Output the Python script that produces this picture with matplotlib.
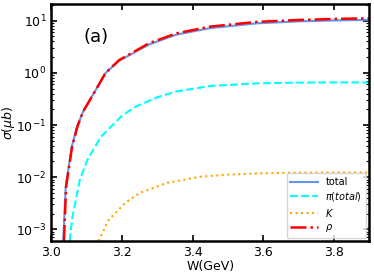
import matplotlib
matplotlib.use("Agg")
from matplotlib import pyplot as plt
import numpy as np

# values (W in GeV, sigma in micro-barn)
w_total = [3.034, 3.041, 3.045, 3.058, 3.073, 3.09, 3.12, 3.154, 3.192, 3.277, 3.354, 3.45, 3.583, 3.7, 3.8, 3.9]
sig_total = [6e-4, 6.5e-3, 1.0e-2, 3.8e-2, 9.3e-2, 0.18, 0.40, 1.0, 1.7, 3.5, 5.4, 7.2, 8.9, 9.7, 10.1, 10.4]

w_rho = [3.036, 3.042, 3.046, 3.059, 3.074, 3.09, 3.12, 3.154, 3.192, 3.277, 3.354, 3.45, 3.583, 3.7, 3.8, 3.9]
sig_rho = [6e-4, 6.5e-3, 1.0e-2, 3.8e-2, 9.3e-2, 0.18, 0.40, 1.0, 1.75, 3.7, 5.7, 7.7, 9.5, 10.3, 10.8, 11.1]

w_pi = [3.052, 3.06, 3.081, 3.103, 3.141, 3.2, 3.239, 3.3, 3.354, 3.45, 3.583, 3.7, 3.8, 3.9]
sig_pi = [6e-4, 1.7e-3, 9e-3, 2.2e-2, 6e-2, 0.15, 0.225, 0.34, 0.44, 0.56, 0.63, 0.65, 0.655, 0.655]

w_k = [3.134, 3.162, 3.209, 3.251, 3.328, 3.422, 3.5, 3.6, 3.7, 3.8, 3.9]
sig_k = [6e-4, 1.5e-3, 3.2e-3, 5e-3, 7.8e-3, 1.02e-2, 1.12e-2, 1.19e-2, 1.22e-2, 1.23e-2, 1.23e-2]

fig = plt.figure(figsize=(3.74, 2.76), dpi=100)
ax = fig.add_axes([0.137, 0.127, 0.850, 0.859])

ax.plot(w_total, sig_total, color="cornflowerblue", linewidth=1.5, label="total")
ax.plot(w_pi, sig_pi, color="cyan", linestyle="--", linewidth=1.5, label=r"$\pi(total)$")
ax.plot(w_k, sig_k, color="orange", linestyle=":", linewidth=1.5, label=r"$K$")
ax.plot(w_rho, sig_rho, color="red", linestyle="-.", linewidth=1.8, label=r"$\rho$")

ax.set_yscale("log")
ax.set_xlim(3.0, 3.9)
ax.set_ylim(6e-4, 21)
ax.set_xticks([3.0, 3.2, 3.4, 3.6, 3.8])
ax.set_xlabel("W(GeV)", fontsize=9, labelpad=1)
ax.set_ylabel(r"$\sigma(\mu b)$", fontsize=9)
ax.yaxis.set_label_coords(-0.108, 0.5)
ax.tick_params(which="both", direction="in", top=True, right=True, labelsize=9)
ax.tick_params(which="major", length=4, width=1.2)
ax.tick_params(which="minor", length=2, width=0.8)
for s in ax.spines.values():
    s.set_linewidth(1.8)

ax.text(0.1, 0.84, "(a)", transform=ax.transAxes, fontsize=13)
ax.legend(loc="lower right", fontsize=7, handlelength=2.8, borderaxespad=0.3, labelspacing=0.35)

fig.savefig("out.png", dpi=100)
